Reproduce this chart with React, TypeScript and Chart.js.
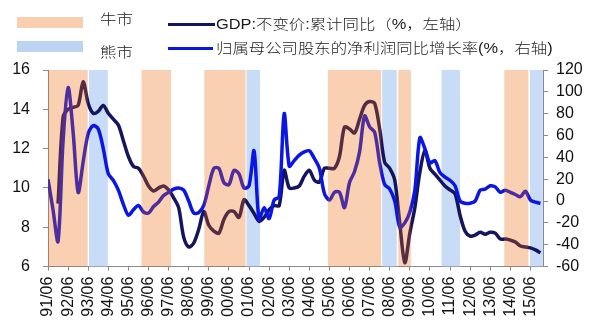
import React, { useEffect, useRef } from "react";
import { Chart, registerables } from "chart.js";

Chart.register(...registerables);

// quarterly index 0 = 91/06, one step = one quarter
const yearLabels = [
  "91/06", "92/06", "93/06", "94/06", "95/06", "96/06", "97/06", "98/06", "99/06",
  "00/06", "01/06", "02/06", "03/06", "04/06", "05/06", "06/06", "07/06", "08/06",
  "09/06", "10/06", "11/06", "12/06", "13/06", "14/06", "15/06",
];

// GDP: 不变价: 累计同比 (%, left axis)
const gdp: (number | null)[] = [
  null, null, 9.2, 13.6, 14.0, 14.1, 14.2, 15.4, 14.3, 13.8,
  13.9, 14.2, 13.8, 13.5, 13.2, 12.4, 11.6, 11.1, 11.0, 10.6,
  10.1, 9.85, 10.0, 10.1, 9.9, 9.5, 9.0, 7.5, 7.0, 7.2,
  7.9, 8.8, 8.1, 7.8, 7.7, 8.4, 8.8, 8.8, 8.5, 9.4,
  9.1, 8.7, 8.3, 8.5, 8.9, 9.1, 9.1, 10.9, 10.0, 10.0,
  10.1, 10.6, 10.9, 10.4, 10.3, 11.0, 11.0, 11.0, 11.6, 13.1,
  13.0, 12.8, 13.5, 14.2, 14.4, 14.3, 13.0, 11.3, 11.0, 10.4,
  8.2, 6.2, 7.7, 9.0, 10.8, 11.9, 11.0, 10.7, 10.4, 10.1,
  9.9, 9.7, 8.6, 7.8, 7.55, 7.6, 7.75, 7.65, 7.75, 7.7,
  7.4, 7.4, 7.35, 7.25, 7.05, 7.0, 6.95, 6.85, 6.7,
];

// 归属母公司股东的净利润同比增长率 (%, right axis)
const profit: number[] = [
  20, -8, -37, 55, 104, 63, 8, 36, 62, 69,
  66, 48, 25, 19, 10, -3, -13, -8, -4, -10,
  -11, -5, -1, 5, 8, 11, 12, 10, 0, -11,
  -10.5, -4, 14, 30, 30, 17, 15, 28, 25, 12,
  14, 46, -17, -6, -16, 1, 4, 80, 32, 37,
  42, 45, 46, 39, 30, 7, 1, 8, 8, -6,
  17, 27, 45, 78, 68, 63, 35, 15, 11, 0,
  -24, -20, -10, 10, 58, 48, 35, 37, 26, 22,
  19, 14, 0, -2, -2, 0, 10, 11, 14, 13,
  8, 10, 8, 6, 4, 9, 1, -1, -2,
];

// market phases, in quarter index units [start, end]
const bullMarkets: [number, number][] = [
  [0, 7.9], [18.6, 24.5], [31.1, 39.3], [55.7, 66.3], [69.7, 72.2], [90.8, 95.6],
];
const bearMarkets: [number, number][] = [
  [8.15, 11.9], [39.5, 42.2], [66.5, 69.4], [78.3, 82.0], [95.9, 98.5],
];

const leftTicks = { min: 6, max: 16, step: 2 };
const rightTicks = { min: -60, max: 120, step: 20 };

const GDP_COLOR = "#15155e";
const PROFIT_COLOR = "#0b16e4";
const BULL_OVERLAY = "rgba(235,98,0,0.3)";
const BULL_LEGEND = "#f9cfaf";
const BEAR_COLOR = "#c8dcf8";
const BEAR_LEGEND = "#bcd3f4";
const AXIS_COLOR = "#8a8a8a";
const TICK_FONT = '"Liberation Sans", Arial, sans-serif';

function drawBands(chart: any, bands: [number, number][], color: string) {
  const { ctx, chartArea } = chart;
  const xs = chart.scales.x;
  ctx.save();
  ctx.beginPath();
  ctx.rect(chartArea.left, chartArea.top, chartArea.right - chartArea.left, chartArea.bottom - chartArea.top);
  ctx.clip();
  ctx.fillStyle = color;
  for (const [a, b] of bands) {
    const x1 = xs.getPixelForValue(a);
    const x2 = xs.getPixelForValue(b);
    ctx.fillRect(x1, chartArea.top, x2 - x1, chartArea.bottom - chartArea.top);
  }
  ctx.restore();
}

const bandsPlugin = {
  id: "marketBands",
  beforeDatasetsDraw(chart: any) {
    drawBands(chart, bearMarkets, BEAR_COLOR);
  },
  afterDatasetsDraw(chart: any) {
    drawBands(chart, bullMarkets, BULL_OVERLAY);
  },
};

export default function App() {
  const ref = useRef<HTMLCanvasElement | null>(null);

  useEffect(() => {
    if (!ref.current) return;
    const chart = new Chart(ref.current, {
      type: "line",
      data: {
        datasets: [
          {
            label: "GDP:不变价:累计同比（%，左轴）",
            data: gdp.map((v, i) => ({ x: i, y: v })) as any,
            borderColor: GDP_COLOR,
            borderWidth: 3.5,
            pointRadius: 0,
            tension: 0.3,
            yAxisID: "y",
            order: 1,
            spanGaps: false,
          },
          {
            label: "归属母公司股东的净利润同比增长率(%，右轴)",
            data: profit.map((v, i) => ({ x: i, y: v })) as any,
            borderColor: PROFIT_COLOR,
            borderWidth: 3.5,
            pointRadius: 0,
            tension: 0.3,
            yAxisID: "y1",
            order: 0,
          },
        ],
      },
      plugins: [bandsPlugin],
      options: {
        animation: false,
        responsive: false,
        devicePixelRatio: 1,
        layout: { padding: { top: 70, left: 0, right: 0, bottom: 0 } },
        plugins: { legend: { display: false }, tooltip: { enabled: false } },
        scales: {
          x: {
            type: "linear",
            min: 0,
            max: 98.5,
            afterBuildTicks: (s: any) => {
              s.ticks = yearLabels.map((_, i) => ({ value: i * 4 }));
            },
            afterFit: (s: any) => {
              s.height = 62.4;
            },
            grid: { drawOnChartArea: false, drawTicks: true, tickLength: 4, color: AXIS_COLOR },
            border: { color: AXIS_COLOR, width: 1 },
            ticks: {
              autoSkip: false,
              minRotation: 90,
              maxRotation: 90,
              padding: 6,
              color: "#111",
              font: { family: TICK_FONT, size: 16 },
              callback: (_v: any, i: number) => yearLabels[i],
            },
          },
          y: {
            position: "left",
            min: leftTicks.min,
            max: leftTicks.max,
            afterFit: (s: any) => {
              s.width = 48;
            },
            grid: { drawOnChartArea: false, tickLength: 5, color: AXIS_COLOR },
            border: { color: AXIS_COLOR, width: 1 },
            ticks: {
              stepSize: leftTicks.step,
              autoSkip: false,
              padding: 13,
              color: "#111",
              font: { family: TICK_FONT, size: 16 },
            },
          },
          y1: {
            position: "right",
            min: rightTicks.min,
            max: rightTicks.max,
            afterFit: (s: any) => {
              s.width = 57;
            },
            grid: { drawOnChartArea: false, tickLength: 5, color: AXIS_COLOR },
            border: { color: AXIS_COLOR, width: 1 },
            ticks: {
              stepSize: rightTicks.step,
              autoSkip: false,
              padding: 8,
              color: "#111",
              font: { family: TICK_FONT, size: 16 },
            },
          },
        },
      },
    } as any);
    return () => chart.destroy();
  }, []);

  const textStyle: React.CSSProperties = {
    position: "absolute",
    whiteSpace: "nowrap",
    fontFamily: '"Liberation Sans", "Noto Sans CJK SC", sans-serif',
    fontSize: 14,
    fontWeight: 300,
    lineHeight: "18px",
    color: "#1a1a1a",
    transform: "scaleX(1.17)",
    transformOrigin: "left center",
  };

  return (
    <div style={{ position: "fixed", left: 0, top: 0, width: 600, height: 329, background: "#fff", overflow: "hidden" }}>
      <canvas ref={ref} width={600} height={329} style={{ position: "absolute", left: 0, top: 0, width: 600, height: 329 }} />
      <div style={{ position: "absolute", left: 17, top: 17, width: 66, height: 11, background: BULL_LEGEND }} />
      <div style={{ ...textStyle, left: 100, top: 10 }}>牛市</div>
      <div style={{ position: "absolute", left: 17, top: 41, width: 66, height: 11, background: BEAR_LEGEND }} />
      <div style={{ ...textStyle, left: 100, top: 43 }}>熊市</div>
      <div style={{ position: "absolute", left: 168, top: 22.5, width: 47, height: 3, background: GDP_COLOR }} />
      <div style={{ ...textStyle, left: 216, top: 15 }}>GDP:不变价:累计同比（%，左轴）</div>
      <div style={{ position: "absolute", left: 168, top: 46.5, width: 45, height: 3, background: PROFIT_COLOR }} />
      <div style={{ ...textStyle, left: 216, top: 39 }}>归属母公司股东的净利润同比增长率(%，右轴)</div>
    </div>
  );
}
